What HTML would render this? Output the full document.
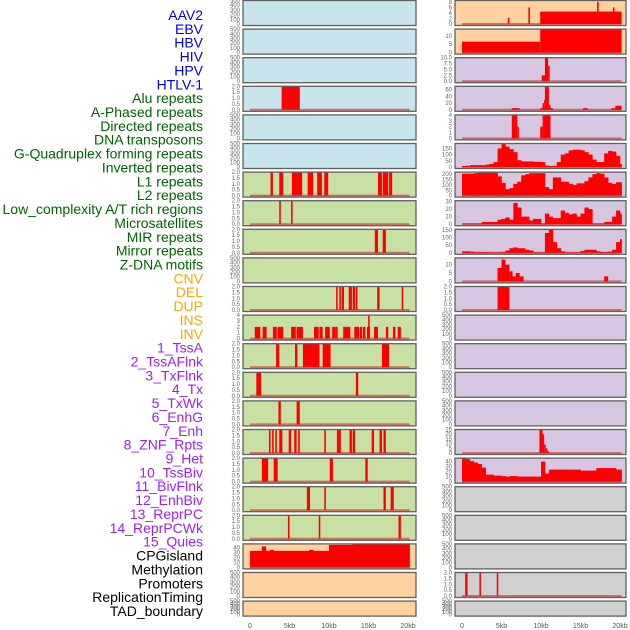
<!DOCTYPE html>
<html><head><meta charset="utf-8"><style>
html,body{margin:0;padding:0;background:#fff;}
svg{display:block;font-family:"Liberation Sans",sans-serif;}
</style></head><body>
<svg id="chart" width="630" height="630" viewBox="0 0 630 630" xmlns="http://www.w3.org/2000/svg"></svg>
<script>
const labels = ["AAV2","EBV","HBV","HIV","HPV","HTLV-1","Alu repeats","A-Phased repeats","Directed repeats","DNA transposons","G-Quadruplex forming repeats","Inverted repeats","L1 repeats","L2 repeats","Low_complexity A/T rich regions","Microsatellites","MIR repeats","Mirror repeats","Z-DNA motifs","CNV","DEL","DUP","INS","INV","1_TssA","2_TssAFlnk","3_TxFlnk","4_Tx","5_TxWk","6_EnhG","7_Enh","8_ZNF_Rpts","9_Het","10_TssBiv","11_BivFlnk","12_EnhBiv","13_ReprPC","14_ReprPCWk","15_Quies","CPGisland","Methylation","Promoters","ReplicationTiming","TAD_boundary"];
const labelGroups = [6,13,5,15,5];
const groupColors = ["#0000ee","#006400","#ffa500","#a020f0","#000000"];
const xTicks = ["0","5kb","10kb","15kb","20kb"];
const xTickKb = [0,5,10,15,20];

// left column panels: bg, ymax, ticks, bars [start kb, end kb, value], profile (0.5kb steps)
const leftBg = ["b","b","b","b","b","b","g","g","g","g","g","g","g","g","g","g","g","g","g","o","o","o"];
const leftYmax = [500,500,500,2,500,500,2,2,2,500,2,4,2,2,2,2,2,2,2,47,500,500];
const leftBars = [
 [],[],[],[[4,6.3,2]],[],[],
 [[2.6,2.9,2],[3.7,4.2,2],[5.3,6.6,2],[7.3,8.0,2],[8.5,9.1,2],[9.4,9.9,2],[16.2,16.7,2],[16.8,17.5,2],[17.6,18.0,2]],
 [[3.7,3.9,2],[5.2,5.4,2]],
 [[15.8,16.2,2],[16.8,17.2,2]],
 [],
 [[10.9,11.1,2],[11.3,11.5,2],[11.6,11.9,2],[12.5,12.9,2],[13.0,13.3,2],[13.4,13.6,2],[16.1,16.4,2],[19.2,19.4,2]],
 [[0.6,1.3,2],[1.6,2.1,2],[2.9,3.4,2],[3.5,4.2,2],[5.2,5.8,2],[5.9,6.7,2],[8.1,8.7,2],[8.8,9.2,2],[9.5,10.1,2],[10.4,10.8,2],[10.8,11.1,2],[11.8,12.7,2],[13.2,13.8,2],[13.9,14.2,2],[14.3,14.6,2],[14.8,15.2,2],[14.95,15.15,4],[15.7,16.2,2],[17.2,17.5,2],[18.1,18.4,2],[18.7,19.1,2]],
 [[3.3,3.7,2],[5.7,6.0,2],[6.7,8.8,2],[9.2,10.2,2],[16.7,17.6,2]],
 [[0.8,1.4,2],[13.4,13.7,2]],
 [[3.6,3.9,2],[5.9,6.3,2]],
 [[2.4,2.6,2],[2.8,3.0,2],[3.2,3.4,2],[3.7,4.1,2],[4.9,5.2,2],[5.6,5.9,2],[6.1,6.3,2],[9.4,9.6,2],[11.0,11.5,2],[12.6,12.9,2],[13.0,13.3,2],[15.4,15.7,2],[16.4,16.7,2],[16.9,17.2,2]],
 [[1.5,2.3,2],[3.0,3.5,2],[10.1,10.5,2],[14.6,14.9,2]],
 [[7.2,7.6,2],[9.4,9.6,2],[16.9,17.2,2],[17.8,18.2,2]],
 [[4.8,5.0,2],[8.7,8.9,2],[18.8,19.1,2]],
 [],[],[]
];
const cpgProfile = [33,33,33,42,33,35,33,33,33,33,33,33,33,33,33,35,33,33,33,33,45,45,45,45,45,45,47,47,47,47,47,47,47,47,47,47,47,47,47,47,47];

const rightBg = ["o","o","p","p","p","p","p","p","p","p","p","p","p","p","p","p","p","y","y","y","y","y"];
const rightYmax = [8.5,14,10,70,4,190,220,31,154,14,2,500,500,500,500,25,47,500,500,500,2,500];
const rightBars = [
 [[5.8,6.0,2.3],[8.4,8.6,6],[9.9,20.2,4.5],[17.1,17.3,8],[19.1,19.3,6]],
 [[0,9.9,6.5],[9.9,20.2,14]],
 [[10.1,10.5,2.5],[10.5,10.9,10],[10.9,11.1,6.5]],
 [[6.3,7.3,5],[9.9,10.2,5],[10.2,10.4,20],[10.4,10.5,30],[10.5,11.0,70],[11.0,11.2,15],[11.2,11.5,5],[15.3,15.9,5],[18.9,19.4,5],[19.4,20.2,12]],
 [[6.3,7.0,4],[7.0,7.2,2],[9.9,10.2,2],[10.2,11.2,4]],
 [],[],[],[],
 [[4.5,5.0,8],[5.0,5.5,13],[5.5,6.0,10],[6.0,6.4,6],[6.4,6.8,3],[6.8,7.3,5],[7.3,7.8,3],[18.0,18.5,3]],
 [[4.5,6.0,2]],
 [],[],[],[],
 [[9.8,10.2,25],[10.2,10.4,20],[10.4,10.6,9],[10.6,10.8,5],[10.8,11.0,2]],
 [],[],[],[],
 [[0.4,0.7,2],[2.2,2.4,2],[4.4,4.6,2]],
 []
];
const gquadProfile = [8,10,15,15,15,15,20,25,40,150,185,165,145,120,55,45,45,45,42,42,40,12,8,10,40,100,110,135,140,140,135,120,100,60,40,40,110,130,125,90,25];
const invertedProfile = [205,205,205,210,215,215,215,215,215,180,120,60,70,110,130,190,200,210,210,210,210,80,60,170,170,130,130,110,100,115,115,135,170,200,210,205,170,120,110,125,125];
const l1Profile = [1,1,1,1,1,3,3,3,3,6,7,9,6,28,22,10,10,5,7,7,1,14,10,8,8,18,15,13,14,10,14,22,20,1,1,1,3,3,10,18,14];
const l2Profile = [10,10,8,4,5,5,5,3,3,3,5,15,30,35,30,30,20,15,3,3,3,130,150,70,30,10,3,3,3,3,12,20,20,20,10,5,5,8,20,70,90];
const tssBivProfile = [47,45,41,38,35,28,14,14,12,12,11,10,11,11,10,10,10,10,10,10,40,16,24,24,24,24,24,24,24,24,22,22,22,22,27,27,27,27,27,24,24];

const leftProfiles = {19: cpgProfile};
const rightProfiles = {5: gquadProfile, 6: invertedProfile, 7: l1Profile, 8: l2Profile, 16: tssBivProfile};

const bgColors = {b:"#c8e4ec", g:"#c8e0a4", o:"#ffd1a0", p:"#d6c6e2", y:"#d0d0d0"};
const NS = "http://www.w3.org/2000/svg";
const svg = document.getElementById("chart");
function mk(tag, attrs, parent){
  const e = document.createElementNS(NS, tag);
  for (const k in attrs) e.setAttribute(k, attrs[k]);
  (parent || svg).appendChild(e);
  return e;
}
function tickList(ymax){
  if (ymax === 500) return [0,100,200,300,400,500];
  if (ymax === 2) return [0,0.5,1,1.5,2];
  if (ymax === 4) return [0,1,2,3,4];
  if (ymax === 10) return [0,2.5,5,7.5,10];
  if (ymax === 8.5) return [0,2,4,6,8];
  if (ymax === 14) return [0,5,10];
  if (ymax === 70) return [0,20,40,60];
  if (ymax === 190) return [0,50,100,150];
  if (ymax === 220) return [0,50,100,150,200];
  if (ymax === 31) return [0,10,20,30];
  if (ymax === 154) return [0,50,100,150];
  if (ymax === 25) return [0,5,10,15,20,25];
  if (ymax === 47) return [0,10,20,30,40];
  return [0];
}
function fmt(v, ymax){
  if (ymax === 2) return v.toFixed(1);
  if (ymax === 10) return v.toFixed(1);
  return String(v);
}

// labels
let gi = 0, gcount = 0;
labels.forEach((lab, i) => {
  while (gcount >= labelGroups[gi]) { gi++; gcount = 0; }
  gcount++;
  const t = mk("text", {x:203, y:15 + i*13.86 + 5, "text-anchor":"end", "font-size":"14", fill:groupColors[gi]});
  t.textContent = lab;
  
  
});

function drawColumn(col, bgs, ymaxs, barsArr, profiles){
  const pl = col === 0 ? 243 : 455;
  const pr = col === 0 ? 416 : 626;
  const x0 = col === 0 ? 250 : 462;
  const xs = kb => x0 + kb * 7.9;
  for (let r = 0; r < 22; r++){
    const top = r * 28.6 + 0.5;
    const h = r === 21 ? 15 : 25;
    const bot = top + h;
    const ymax = ymaxs[r];
    const ys = v => (bot - 1.5) - v / ymax * (h - 1.5);
    const g = mk("g", {});
    
    
    const bg = mk("rect", {x:pl, y:top, width:pr-pl, height:h, fill:bgColors[bgs[r]]}, g);
    
    
    const hasData = barsArr[r].length > 0 || profiles[r];
    if (hasData){
      const bl = mk("line", {x1:xs(0), x2:xs(20.2), y1:bot-1.5, y2:bot-1.5, stroke:"#d24040", "stroke-width":2, opacity:0.7}, g);
      
      
    }
    barsArr[r].forEach(b => {
      const rc = mk("rect", {x:xs(b[0]), y:ys(b[2]), width:Math.max(1.2, xs(b[1]) - xs(b[0])), height:ys(0) - ys(b[2]), fill:"#ff0000"}, g);
      
      
    });
    if (profiles[r]){
      const p = profiles[r];
      p.forEach((v, i) => {
        const k0 = i * 0.5, k1 = Math.min(20.2, k0 + 0.5);
        const rc = mk("rect", {x:xs(k0), y:ys(v), width:xs(k1) - xs(k0) + 0.3, height:ys(0) - ys(v), fill:"#ff0000"}, g);
        
        
      });
    }
    const bd = mk("rect", {x:pl, y:top, width:pr-pl, height:h, fill:"none", stroke:"#606060", "stroke-width":1.3}, g);
    
    
    tickList(ymax).forEach(v => {
      const t = mk("text", {x:pl - 3, y:ys(v) + 2, "text-anchor":"end", "font-size":"6", fill:"#666"}, g);
      t.textContent = fmt(v, ymax);
      
      
    });
  }
  xTickKb.forEach((k, i) => {
    const t = mk("text", {x:xs(k), y:628, "text-anchor":"middle", "font-size":"7", fill:"#555"});
    t.textContent = xTicks[i];
    
    
  });
}
drawColumn(0, leftBg, leftYmax, leftBars, leftProfiles);
drawColumn(1, rightBg, rightYmax, rightBars, rightProfiles);
</script>
</body></html>
